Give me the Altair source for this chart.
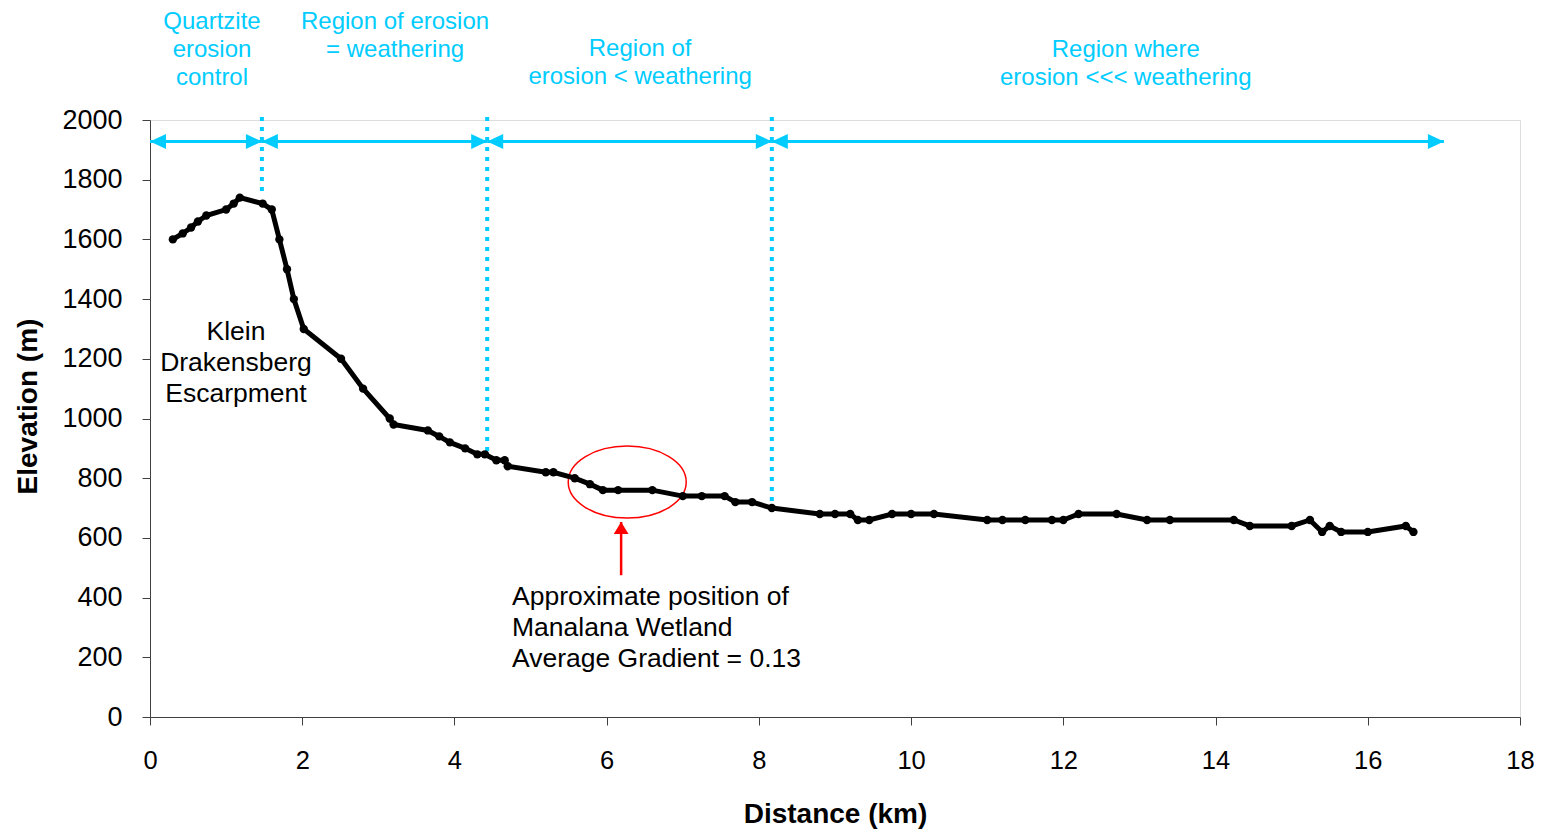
import altair as alt
import pandas as pd

# ---- profile data (distance km, elevation m) ----
distance = [0.3, 0.43, 0.54, 0.63, 0.74, 1.0, 1.1, 1.18, 1.48, 1.6, 1.7, 1.8, 1.89, 2.02,
            2.51, 2.8, 3.15, 3.2, 3.65, 3.8, 3.94, 4.14, 4.3, 4.4, 4.55, 4.66, 4.7, 5.2,
            5.3, 5.58, 5.78, 5.95, 6.15, 6.6, 7.0, 7.25, 7.55, 7.69, 7.91, 8.17, 8.8,
            9.0, 9.2, 9.3, 9.45, 9.75, 10.0, 10.3, 11.0, 11.2, 11.5, 11.85, 12.0, 12.2,
            12.7, 13.1, 13.4, 14.24, 14.45, 15.0, 15.24, 15.4, 15.5, 15.65, 16.0, 16.5, 16.6]
elevation = [1600, 1620, 1640, 1660, 1680, 1700, 1720, 1740, 1720, 1700, 1600, 1500, 1400, 1300,
             1200, 1100, 1000, 980, 960, 940, 920, 900, 880, 880, 860, 860, 840, 820,
             820, 800, 780, 760, 760, 760, 740, 740, 740, 720, 720, 700, 680,
             680, 680, 660, 660, 680, 680, 680, 660, 660, 660, 660, 660, 680,
             680, 660, 660, 660, 640, 640, 660, 620, 640, 620, 620, 640, 620]

# ---- region boundaries ----
boundary_x = [1.47, 4.43, 8.17]
boundary_top = [2010, 2010, 2010]
boundary_bottom = [1750, 884, 677]

arrow_start = [0.0, 1.47, 4.43, 8.17]
arrow_end = [1.47, 4.43, 8.17, 17.0]
arrow_y = 1928

region_labels = ["Quartzite\nerosion\ncontrol", "Region of erosion\n= weathering",
                 "Region of\nerosion < weathering", "Region where\nerosion <<< weathering"]
region_label_x = [0.815, 3.22, 6.44, 12.82]
region_label_y = [2327, 2327, 2239, 2236]

note_labels = ["Klein\nDrakensberg\nEscarpment"]
note_x = [1.13]
note_y = [1290]

wetland_label = ["Approximate position of\nManalana Wetland\nAverage Gradient = 0.13"]
wetland_label_x = [4.756]
wetland_label_y = [402]

ellipse_x = [6.27]
ellipse_y = [787]
red_arrow_x = [6.19]
red_arrow_from = [475]
red_arrow_to = [653]

BLUE = "#00CCFF"
FONT = "Liberation Sans"

xscale = alt.Scale(domain=[0, 18], nice=False)
yscale = alt.Scale(domain=[0, 2000], nice=False)

prof = pd.DataFrame({"d": distance, "e": elevation})

base_x = alt.X("d:Q", scale=xscale,
               axis=alt.Axis(values=list(range(0, 19, 2)), format="d", title="Distance (km)",
                             grid=False, tickSize=8, labelPadding=23, labelFontSize=25.5,
                             labelFont=FONT, labelColor="black", titleFont=FONT,
                             titleFontSize=28, titleFontWeight="bold", titleColor="black",
                             titleY=97, titleBaseline="middle", domainColor="#404040",
                             tickColor="#404040", labelFlush=False))
base_y = alt.Y("e:Q", scale=yscale,
               axis=alt.Axis(values=list(range(0, 2001, 200)), format="d", title="Elevation (m)",
                             grid=False, tickSize=8, labelPadding=20, labelFontSize=27,
                             labelFont=FONT, labelColor="black", titleFont=FONT,
                             titleFontSize=28, titleFontWeight="bold", titleColor="black",
                             titleX=-122, titleY=286, titleAngle=-90, titleAlign="center",
                             titleBaseline="middle", domainColor="#404040",
                             tickColor="#404040", labelFlush=False))

profile = alt.Chart(prof).mark_line(color="black", strokeWidth=5,
                                    point=alt.OverlayMarkDef(color="black", filled=True, size=70)
                                    ).encode(x=base_x, y=base_y)

bdf = pd.DataFrame({"d": boundary_x, "top": boundary_top, "bot": boundary_bottom})
boundaries = alt.Chart(bdf).mark_rule(color=BLUE, strokeWidth=4, strokeDash=[4, 6]).encode(
    x=alt.X("d:Q", scale=xscale), y=alt.Y("top:Q", scale=yscale), y2="bot:Q")

adf = pd.DataFrame({"s": arrow_start, "t": arrow_end, "y": [arrow_y] * len(arrow_start)})
arrows = alt.Chart(adf).mark_rule(color=BLUE, strokeWidth=3).encode(
    x=alt.X("s:Q", scale=xscale), x2="t:Q", y=alt.Y("y:Q", scale=yscale))
heads_right = alt.Chart(adf).mark_point(shape="M0,0 L-1,-0.47 L-1,0.47 Z", filled=True,
                                        color=BLUE, opacity=1, size=1024).encode(
    x=alt.X("t:Q", scale=xscale), y=alt.Y("y:Q", scale=yscale))
heads_left = alt.Chart(adf).mark_point(shape="M0,0 L1,-0.47 L1,0.47 Z", filled=True,
                                       color=BLUE, opacity=1, size=1024).encode(
    x=alt.X("s:Q", scale=xscale), y=alt.Y("y:Q", scale=yscale))

rdf = pd.DataFrame({"label": region_labels, "x": region_label_x, "y": region_label_y})
region_text = alt.Chart(rdf).mark_text(color=BLUE, font=FONT, fontSize=24, lineBreak="\n",
                                       lineHeight=28, align="center", baseline="middle").encode(
    x=alt.X("x:Q", scale=xscale), y=alt.Y("y:Q", scale=yscale), text="label:N")

ndf = pd.DataFrame({"label": note_labels, "x": note_x, "y": note_y})
note_text = alt.Chart(ndf).mark_text(color="black", font=FONT, fontSize=26.5, lineBreak="\n",
                                     lineHeight=31, align="center", baseline="middle").encode(
    x=alt.X("x:Q", scale=xscale), y=alt.Y("y:Q", scale=yscale), text="label:N")

wdf = pd.DataFrame({"label": wetland_label, "x": wetland_label_x, "y": wetland_label_y})
wet_text = alt.Chart(wdf).mark_text(color="black", font=FONT, fontSize=26.5, lineBreak="\n",
                                    lineHeight=31, align="left", baseline="middle").encode(
    x=alt.X("x:Q", scale=xscale), y=alt.Y("y:Q", scale=yscale), text="label:N")

edf = pd.DataFrame({"x": ellipse_x, "y": ellipse_y})
ellipse = alt.Chart(edf).mark_point(
    shape="M-1,0 A1,0.61 0 1,0 1,0 A1,0.61 0 1,0 -1,0 Z", filled=False, color="#FF0000",
    strokeWidth=1.5, opacity=1, size=13924).encode(
    x=alt.X("x:Q", scale=xscale), y=alt.Y("y:Q", scale=yscale))

radf = pd.DataFrame({"x": red_arrow_x, "a": red_arrow_from, "b": red_arrow_to})
red_line = alt.Chart(radf).mark_rule(color="#FF0000", strokeWidth=2.5).encode(
    x=alt.X("x:Q", scale=xscale), y=alt.Y("a:Q", scale=yscale), y2="b:Q")
red_head = alt.Chart(radf).mark_point(shape="M0,0 L-0.62,1 L0.62,1 Z", filled=True,
                                      color="#FF0000", opacity=1, size=576).encode(
    x=alt.X("x:Q", scale=xscale), y=alt.Y("b:Q", scale=yscale))

chart = alt.layer(
    arrows, heads_right, heads_left, boundaries, ellipse, red_line, red_head,
    profile, region_text, note_text, wet_text
).properties(
    width=1370, height=597,
    autosize=alt.AutoSizeParams(type="none"),
    padding={"left": 142, "top": 112, "right": 14, "bottom": 112},
).configure_view(stroke=None).configure(background="white")

chart.save("out.html", embed_options={"renderer": "svg", "actions": False})
